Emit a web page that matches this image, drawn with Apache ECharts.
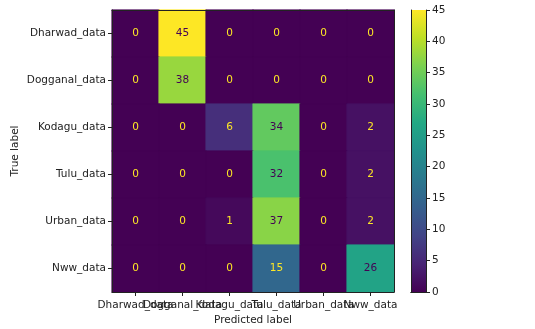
<!DOCTYPE html>
<html>
<head>
<meta charset="utf-8">
<script src="https://cdn.jsdelivr.net/npm/echarts@6/dist/echarts.min.js"></script>
<style>
  html, body { margin: 0; padding: 0; background: #fff; }
  #chart { width: 535px; height: 329px; }
</style>
</head>
<body>
<div id="chart"></div>
<script>
// Class names shared by both axes
const classes = ['Dharwad_data', 'Dogganal_data', 'Kodagu_data', 'Tulu_data', 'Urban_data', 'Nww_data'];

// Confusion matrix rows (true label), columns (predicted label)
const rowDharwad  = [0, 45, 0, 0, 0, 0];
const rowDogganal = [0, 38, 0, 0, 0, 0];
const rowKodagu   = [0, 0, 6, 34, 0, 2];
const rowTulu     = [0, 0, 0, 32, 0, 2];
const rowUrban    = [0, 0, 1, 37, 0, 2];
const rowNww      = [0, 0, 0, 15, 0, 26];
const matrix = [rowDharwad, rowDogganal, rowKodagu, rowTulu, rowUrban, rowNww];

// Colour bar range and ticks
const scaleMin = 0;
const scaleMax = 45;
const scaleStep = 5;

const viridis = ['#440154', '#482475', '#414487', '#355f8d', '#2a788e', '#21918c',
                 '#22a884', '#44bf70', '#7ad151', '#bddf26', '#fde725'];

// Each cell gets its colormap colour as both fill and border so neighbouring
// cells of the same colour leave no anti-aliased seam between them.
const threshold = (scaleMin + scaleMax) / 2;
const cells = [];
matrix.forEach((row, r) => {
  row.forEach((v, c) => {
    const fill = echarts.color.lerp((v - scaleMin) / (scaleMax - scaleMin), viridis);
    cells.push({
      value: [c, r, v],
      itemStyle: { color: fill, borderColor: fill, borderWidth: 0.6 },
      label: { color: v < threshold ? viridis[viridis.length - 1] : viridis[0] }
    });
  });
});

const font = 'DejaVu Sans';
const fs = 10.5;
const ink = '#222';
const chart = echarts.init(document.getElementById('chart'), null, { renderer: 'canvas' });

const edge = (extra) => Object.assign({
  z: 10,
  axisLine: { show: true, lineStyle: { color: ink, width: 1 } },
  axisTick: { show: false }, axisLabel: { show: false }, splitLine: { show: false }
}, extra);

chart.setOption({
  animation: false,
  backgroundColor: '#ffffff',
  textStyle: { fontFamily: font },
  grid: [
    { left: 112, top: 10, width: 282, height: 282, containLabel: false, outerBoundsMode: 'none' },
    { left: 411, top: 10, width: 15, height: 282, containLabel: false, outerBoundsMode: 'none' }
  ],
  xAxis: [
    {
      type: 'category', gridIndex: 0, data: classes, position: 'bottom', z: 10,
      name: 'Predicted label', nameLocation: 'middle', nameGap: 23, nameMoveOverlap: false,
      nameTextStyle: { fontFamily: font, fontSize: fs, color: ink, verticalAlign: 'top' },
      axisLine: { show: true, lineStyle: { color: ink, width: 1 } },
      axisTick: { show: true, alignWithLabel: true, length: 4, lineStyle: { color: ink } },
      axisLabel: { interval: 0, margin: 8, fontFamily: font, fontSize: fs, color: ink, hideOverlap: false },
      splitLine: { show: false }
    },
    edge({ type: 'category', gridIndex: 0, data: classes, position: 'top' }),
    edge({ type: 'category', gridIndex: 1, data: [''], position: 'bottom' }),
    edge({ type: 'category', gridIndex: 1, data: [''], position: 'top' })
  ],
  yAxis: [
    {
      type: 'category', gridIndex: 0, data: classes, inverse: true, position: 'left', z: 10,
      name: 'True label', nameLocation: 'middle', nameGap: 91, nameRotate: 90, nameMoveOverlap: false,
      nameTextStyle: { fontFamily: font, fontSize: fs, color: ink },
      axisLine: { show: true, lineStyle: { color: ink, width: 1 } },
      axisTick: { show: true, alignWithLabel: true, length: 4, lineStyle: { color: ink } },
      axisLabel: { interval: 0, margin: 6, fontFamily: font, fontSize: fs, color: ink },
      splitLine: { show: false }
    },
    edge({ type: 'category', gridIndex: 0, data: classes, inverse: true, position: 'right' }),
    {
      type: 'value', gridIndex: 1, min: scaleMin, max: scaleMax, interval: scaleStep, position: 'right', z: 10,
      axisLine: { show: true, lineStyle: { color: ink, width: 1 } },
      axisTick: { show: true, length: 4, lineStyle: { color: ink } },
      axisLabel: { margin: 6, fontFamily: font, fontSize: fs, color: ink },
      splitLine: { show: false }
    },
    edge({ type: 'value', gridIndex: 1, min: scaleMin, max: scaleMax, position: 'left' })
  ],
  series: [
    {
      type: 'heatmap', xAxisIndex: 0, yAxisIndex: 0, data: cells,
      label: { show: true, fontFamily: font, fontSize: fs, formatter: p => p.value[2] },
      emphasis: { disabled: true }
    },
    {
      type: 'bar', xAxisIndex: 2, yAxisIndex: 2, data: [scaleMax], barWidth: '100%',
      itemStyle: {
        color: new echarts.graphic.LinearGradient(0, 1, 0, 0,
          viridis.map((c, i) => ({ offset: i / (viridis.length - 1), color: c })))
      },
      silent: true
    }
  ]
});
</script>
</body>
</html>
